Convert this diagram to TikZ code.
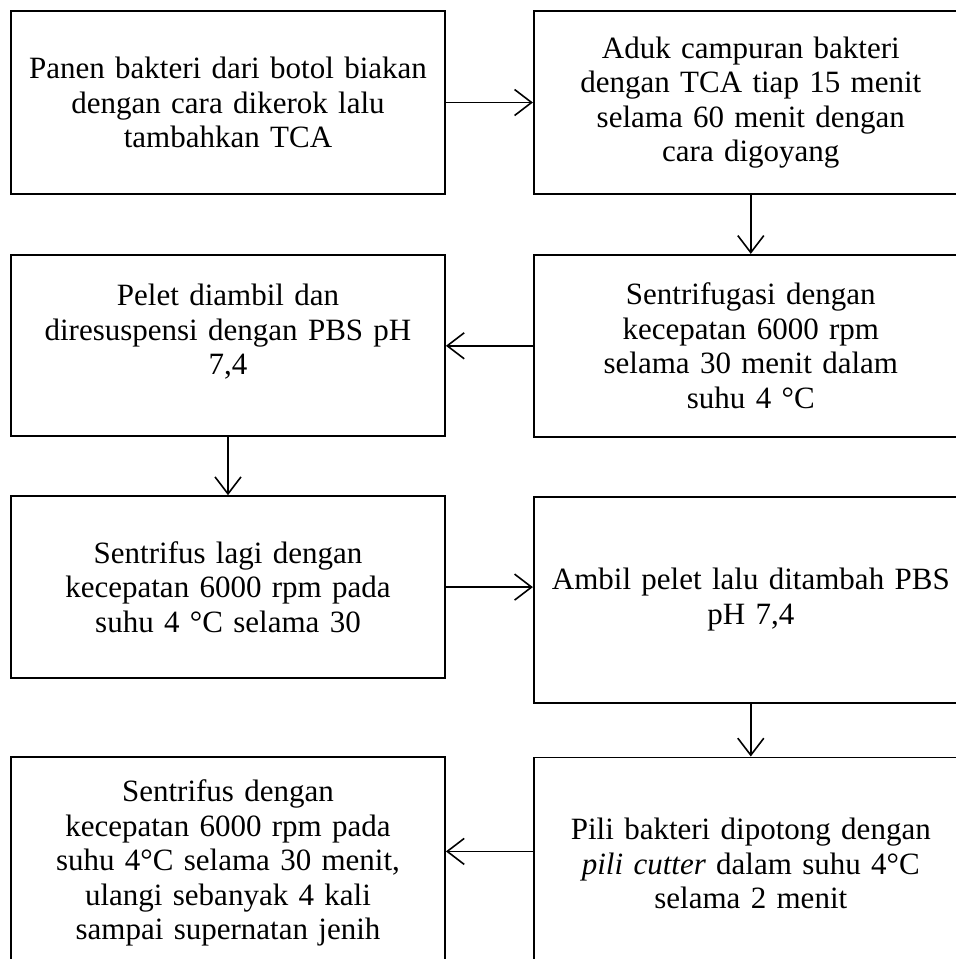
\documentclass[tikz,border=0pt]{standalone}
\usepackage{fontspec}
\setmainfont{Liberation Serif}
\usetikzlibrary{arrows.meta, positioning}
\begin{document}
\begin{tikzpicture}[x=1pt, y=-1pt, >={Straight Barb[length=17pt, width=26pt]},
			box/.style={draw, rectangle, line width=1.8pt, minimum width=434pt, text width=422pt,
				align=center, inner sep=6pt, font=\fontsize{31}{34.5}\selectfont},
			link/.style={->, line width=1.6pt}]
			
			\useasboundingbox (0,0) rectangle (956,959);
			\clip (0,0) rectangle (956,959);
			
			% Drawing the steps
			\node[box, minimum height=183pt] (panen) at (228,102.5) {Panen bakteri dari botol biakan\\dengan cara dikerok lalu\\tambahkan TCA};
			\node[box, minimum height=183pt, right=87pt of panen] (aduk) {Aduk campuran bakteri\\dengan TCA tiap 15 menit\\selama 60 menit dengan\\cara digoyang};
			\node[box, minimum height=182pt, below=59pt of aduk] (sentri) {Sentrifugasi dengan\\kecepatan 6000 rpm\\selama 30 menit dalam\\suhu 4 °C};
			\node[box, minimum height=181pt, left=87pt of sentri] (pelet) {Pelet diambil dan\\diresuspensi dengan PBS pH\\7,4\\[-2pt]\mbox{}};
			\node[box, minimum height=182pt, below=58pt of pelet] (lagi) {Sentrifus lagi dengan\\kecepatan 6000 rpm pada\\suhu 4 °C selama 30};
			\node[box, minimum height=206pt, below=58pt of sentri] (ambil) {Ambil pelet lalu ditambah PBS\\pH 7,4};
			\node[box, minimum height=212pt, below=53pt of ambil] (pili) {Pili bakteri dipotong dengan\\\textit{pili cutter} dalam suhu 4°C\\selama 2 menit};
			\node[box, minimum height=212pt, below=77pt of lagi] (ulang) {Sentrifus dengan\\kecepatan 6000 rpm pada\\suhu 4°C selama 30 menit,\\ulangi sebanyak 4 kali\\sampai supernatan jenih};
			
			% Connecting the steps
			\draw[link] (panen) -- (aduk);
			\draw[link] (aduk) -- (sentri);
			\draw[link] (sentri) -- (pelet);
			\draw[link] (pelet) -- (lagi);
			\draw[link] (lagi.east) -- (lagi.east -| ambil.west);
			\draw[link] (ambil) -- (pili);
			\draw[link] ([yshift=12pt]pili.west) -- ([yshift=12pt]pili.west -| ulang.east);
		\end{tikzpicture}
\end{document}
